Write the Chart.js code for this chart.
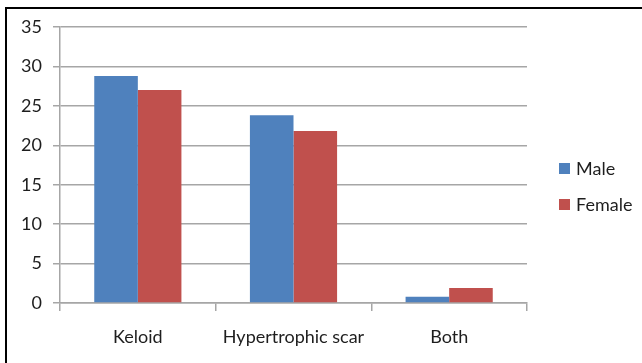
<!DOCTYPE html>
<html>
<head>
<meta charset="utf-8">
<script src="https://cdn.jsdelivr.net/npm/chart.js@4"></script>
<style>
  html, body { margin: 0; padding: 0; background: #fff; }
  #wrap { position: relative; width: 642px; height: 363px; overflow: hidden; }
  #frame { position: absolute; left: 5px; top: 7px; right: -10px; bottom: -10px;
           border-top: 2px solid #000; border-left: 2px solid #000; pointer-events: none; }
  canvas { position: absolute; left: 0; top: 0; }
</style>
</head>
<body>
<div id="wrap">
  <canvas id="chart" width="642" height="363"></canvas>
  <div id="frame"></div>
</div>
<script>
const categories = ["Keloid", "Hypertrophic scar", "Both"];
const maleValues = [28.8, 23.8, 0.8];
const femaleValues = [27.0, 21.8, 1.9];
const yTicks = [0, 5, 10, 15, 20, 25, 30, 35];

const textColor = "#1e1e1e";
const gridColor = "#a6a6a6";
const fontFamily = "Lato, 'Liberation Sans', sans-serif";

// legend drawn at the right side, like the original office chart
const sideLegend = {
  id: "sideLegend",
  afterDraw(chart) {
    const ctx = chart.ctx;
    ctx.save();
    ctx.font = "18px " + fontFamily;
    ctx.textBaseline = "middle";
    chart.data.datasets.forEach((ds, i) => {
      const y = 163 + i * 36;
      ctx.fillStyle = ds.backgroundColor;
      ctx.fillRect(559, y, 11, 11);
      ctx.fillStyle = textColor;
      ctx.fillText(ds.label, 576, y + 6);
    });
    ctx.restore();
  }
};

new Chart(document.getElementById("chart").getContext("2d"), {
  type: "bar",
  data: {
    labels: categories,
    datasets: [
      { label: "Male", data: maleValues, backgroundColor: "#4F81BD" },
      { label: "Female", data: femaleValues, backgroundColor: "#C0504D" }
    ]
  },
  options: {
    responsive: false,
    animation: false,
    layout: { padding: { top: 27, right: 115, left: 0, bottom: 0 } },
    datasets: { bar: { categoryPercentage: 0.56, barPercentage: 1.0 } },
    plugins: { legend: { display: false }, tooltip: { enabled: false } },
    scales: {
      x: {
        grid: { offset: true, drawOnChartArea: false, drawTicks: true, tickLength: 8, color: gridColor, lineWidth: 1.5 },
        border: { display: true, color: gridColor, width: 1.5 },
        ticks: { color: textColor, font: { family: fontFamily, size: 18 }, padding: 15, maxRotation: 0 },
        afterFit(scale) { scale.height = 60; }
      },
      y: {
        min: 0,
        max: 35,
        afterBuildTicks(scale) { scale.ticks = yTicks.map(v => ({ value: v })); },
        grid: { color: gridColor, lineWidth: 1.5, tickLength: 7 },
        border: { display: true, color: gridColor, width: 1.5 },
        ticks: { color: textColor, font: { family: fontFamily, size: 18 }, padding: 11 },
        afterFit(scale) { scale.width = 60; }
      }
    }
  },
  plugins: [sideLegend]
});
</script>
</body>
</html>
